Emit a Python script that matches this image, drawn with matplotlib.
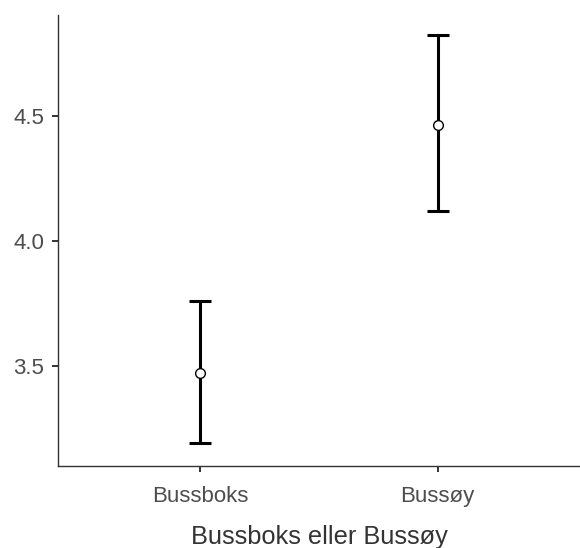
import matplotlib
matplotlib.use("Agg")
import matplotlib.pyplot as plt

categories = ["Bussboks", "Bussøy"]
means = [3.472, 4.464]
lower = [3.192, 4.120]
upper = [3.760, 4.824]
yticks = [3.5, 4.0, 4.5]
xlabel = "Bussboks eller Bussøy"

plt.rcParams['font.family'] = ['Liberation Sans', 'DejaVu Sans']

fig = plt.figure(figsize=(5.8, 5.48), dpi=100)
ax = fig.add_axes([58/580, (548-466)/548, 1 - 58/580, (466-15)/548])

x = list(range(1, len(categories) + 1))
yerr = [[m - l for m, l in zip(means, lower)], [u - m for m, u in zip(means, upper)]]
ax.errorbar(x, means, yerr=yerr, fmt='none', ecolor='black', elinewidth=2.2,
            capsize=8, capthick=2.2, zorder=2)
ax.plot(x, means, 'o', markersize=7, markerfacecolor='white',
        markeredgecolor='black', markeredgewidth=1.0, zorder=3)

ax.set_xlim(0.4, 2.6)
ax.set_ylim(3.1, 4.904)
ax.set_xticks(x)
ax.set_xticklabels(categories)
ax.set_yticks(yticks)
ax.set_yticklabels([f"{v:.1f}" for v in yticks])

for s in ['top', 'right']:
    ax.spines[s].set_visible(False)
for s in ['left', 'bottom']:
    ax.spines[s].set_color('#333333')
    ax.spines[s].set_linewidth(1.0)

ax.tick_params(axis='both', colors='#333333', length=4.5, width=1.4,
               labelcolor='#4D4D4D', labelsize=16)
ax.tick_params(axis='x', pad=10)
ax.tick_params(axis='y', pad=5.5)
ax.set_xlabel(xlabel, fontsize=18.3, color='#333333', labelpad=13)

fig.savefig("out.png", dpi=100)
